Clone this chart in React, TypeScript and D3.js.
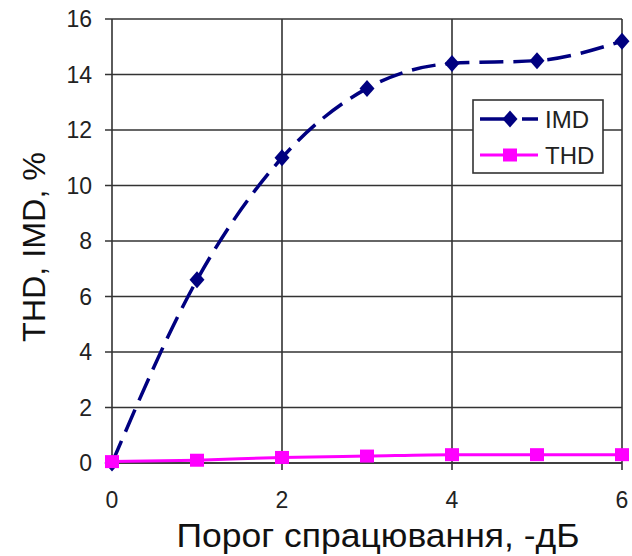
import React, { useEffect, useRef } from "react";
import * as d3 from "d3";

const thresholds = [0, 1, 2, 3, 4, 5, 6];
const imdValues = [0, 6.6, 11, 13.5, 14.4, 14.5, 15.2];
const thdValues = [0.05, 0.1, 0.2, 0.25, 0.3, 0.3, 0.3];
const xTicks = [0, 2, 4, 6];
const yTicks = [0, 2, 4, 6, 8, 10, 12, 14, 16];
const legendLabels = ["IMD", "THD"];

export default function App() {
  const ref = useRef<SVGSVGElement>(null);

  useEffect(() => {
    if (!ref.current) return;
    const svg = d3.select(ref.current);
    svg.selectAll("*").remove();

    const margin = { top: 19, right: 10, bottom: 93, left: 112 };
    const width = 622 - margin.left;
    const height = 463 - margin.top;
    const font = "'Liberation Sans', Arial, sans-serif";
    const navy = "#000080";
    const pink = "#FF00FF";

    const g = svg
      .append("g")
      .attr("transform", `translate(${margin.left},${margin.top})`);

    const x = d3.scaleLinear().domain([0, 6]).range([0, width]);
    const y = d3.scaleLinear().domain([0, 16]).range([height, 0]);

    // grid
    g.selectAll(".hgrid")
      .data(yTicks)
      .enter()
      .append("line")
      .attr("x1", -7)
      .attr("x2", width)
      .attr("y1", (d) => y(d))
      .attr("y2", (d) => y(d))
      .attr("stroke", (d) => (d === 0 ? "#000" : "#333"))
      .attr("stroke-width", 1.6);

    g.selectAll(".vgrid")
      .data(xTicks)
      .enter()
      .append("line")
      .attr("x1", (d) => x(d))
      .attr("x2", (d) => x(d))
      .attr("y1", 0)
      .attr("y2", height + 7)
      .attr("stroke", "#333")
      .attr("stroke-width", 1.6);

    // tick labels
    g.selectAll(".ylab")
      .data(yTicks)
      .enter()
      .append("text")
      .attr("x", -20)
      .attr("y", (d) => y(d))
      .attr("dy", "0.36em")
      .attr("text-anchor", "end")
      .style("font-family", font)
      .style("font-size", "23px")
      .style("fill", "#222")
      .text((d) => d);

    g.selectAll(".xlab")
      .data(xTicks)
      .enter()
      .append("text")
      .attr("x", (d) => x(d))
      .attr("y", height + 45)
      .attr("text-anchor", "middle")
      .style("font-family", font)
      .style("font-size", "23px")
      .style("fill", "#222")
      .text((d) => d);

    // axis titles
    svg
      .append("text")
      .attr("x", 378)
      .attr("y", 547)
      .attr("text-anchor", "middle")
      .attr("textLength", 403)
      .attr("lengthAdjust", "spacingAndGlyphs")
      .style("font-family", font)
      .style("font-size", "33px")
      .style("fill", "#111")
      .text("Порог спрацювання, -дБ");

    svg
      .append("text")
      .attr("transform", `translate(45, 247) rotate(-90)`)
      .attr("text-anchor", "middle")
      .attr("textLength", 190)
      .attr("lengthAdjust", "spacingAndGlyphs")
      .style("font-family", font)
      .style("font-size", "32px")
      .style("fill", "#111")
      .text("THD, IMD, %");

    const line = d3
      .line<number>()
      .x((_, i) => x(thresholds[i]))
      .y((d) => y(d))
      .curve(d3.curveMonotoneX);

    const diamond = (cx: number, cy: number) =>
      `M${cx},${cy - 8.5}L${cx + 7.5},${cy}L${cx},${cy + 8.5}L${cx - 7.5},${cy}Z`;

    // IMD
    g.append("path")
      .datum(imdValues)
      .attr("fill", "none")
      .attr("stroke", navy)
      .attr("stroke-width", 3.5)
      .attr("stroke-dasharray", "24,10")
      .attr("d", line);

    g.selectAll(".imd")
      .data(imdValues)
      .enter()
      .append("path")
      .attr("d", (d, i) => diamond(x(thresholds[i]), y(d)))
      .attr("fill", navy);

    // THD
    g.append("path")
      .datum(thdValues)
      .attr("fill", "none")
      .attr("stroke", pink)
      .attr("stroke-width", 3)
      .attr("d", line);

    g.selectAll(".thd")
      .data(thdValues)
      .enter()
      .append("rect")
      .attr("x", (d, i) => x(thresholds[i]) - 7)
      .attr("y", (d) => y(d) - 6.5)
      .attr("width", 14)
      .attr("height", 13)
      .attr("fill", pink);

    // legend
    const legend = svg.append("g").attr("transform", "translate(473,100)");
    legend
      .append("rect")
      .attr("width", 130)
      .attr("height", 73)
      .attr("fill", "#fff")
      .attr("stroke", "#333")
      .attr("stroke-width", 1.6);

    legendLabels.forEach((label, i) => {
      const ly = 19 + i * 36;
      const color = i === 0 ? navy : pink;
      legend
        .append("line")
        .attr("x1", 7)
        .attr("x2", 65)
        .attr("y1", ly)
        .attr("y2", ly)
        .attr("stroke", color)
        .attr("stroke-width", i === 0 ? 3.5 : 3)
        .attr("stroke-dasharray", i === 0 ? "34,8,16" : null);
      if (i === 0) {
        legend.append("path").attr("d", diamond(37, ly)).attr("fill", color);
      } else {
        legend
          .append("rect")
          .attr("x", 30)
          .attr("y", ly - 6.5)
          .attr("width", 14)
          .attr("height", 13)
          .attr("fill", color);
      }
      legend
        .append("text")
        .attr("x", 72)
        .attr("y", ly)
        .attr("dy", "0.36em")
        .style("font-family", font)
        .style("font-size", "24px")
        .style("fill", "#222")
        .text(label);
    });
  }, []);

  return (
    <svg
      ref={ref}
      width={632}
      height={556}
      style={{ position: "absolute", left: 0, top: 0, background: "#fff" }}
    />
  );
}
